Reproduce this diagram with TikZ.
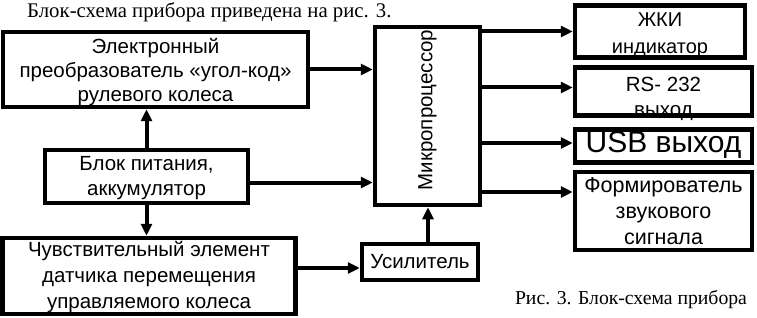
\documentclass[tikz,border=0pt]{standalone}
\usepackage{fontspec}
\setmainfont{Liberation Serif}
\newfontfamily\boxfont{Liberation Sans}
\usetikzlibrary{arrows.meta}
\pgfdeclarelayer{textlayer}
\pgfsetlayers{textlayer,main}
\begin{document}
\begin{tikzpicture}[x=1pt,y=-1pt,
  blk/.style={draw,line width=4.5pt,inner sep=0pt},
  txt/.style={inner sep=0pt,align=center,font=\boxfont\fontsize{20.5}{24}\selectfont},
  con/.style={line width=4pt,-{Triangle[length=12pt,width=11pt]}},
  capt/.style={inner sep=0pt}
]
\useasboundingbox (0,0) rectangle (757,318);

\node[capt,anchor=west,font=\fontsize{20.8}{24}\selectfont] (title) at (27,12) {Блок-схема прибора приведена на рис. 3.};
\node[capt,font=\fontsize{19.7}{23}\selectfont] (cap) at (631,300) {Рис. 3. Блок-схема прибора};

\node[blk,minimum width=305pt,minimum height=75pt] (conv) at (155.5,69.5) {};
\node[blk,minimum width=105pt,minimum height=178pt] (mcu) at (427.5,116) {};
\node[blk,minimum width=203pt,minimum height=53pt] (pwr) at (146.5,176.5) {};
\node[blk,minimum width=293pt,minimum height=76pt] (sens) at (149,276) {};
\node[blk,minimum width=116pt,minimum height=36pt] (amp) at (420,262) {};
\node[blk,minimum width=170pt,minimum height=52pt] (lcd) at (660,31.5) {};
\node[blk,minimum width=177pt,minimum height=48pt] (rs) at (663.5,91.5) {};
\node[blk,minimum width=177pt,minimum height=33pt] (usb) at (663.5,146) {};
\node[blk,minimum width=177pt,minimum height=78pt] (snd) at (663.5,211) {};

\begin{pgfonlayer}{textlayer}
\node[txt] (convt) at ([yshift=-3pt]conv.center) {Электронный\\преобразователь «угол-код»\\рулевого колеса};
\node[txt] (mcut) at ([yshift=6pt]mcu.center) {\rotatebox{90}{Микропроцессор}};
\node[txt,font=\boxfont\fontsize{20.5}{25}\selectfont] (pwrt) at ([yshift=-2pt]pwr.center) {Блок питания,\\аккумулятор};
\node[txt,font=\boxfont\fontsize{20.5}{26}\selectfont] (senst) at ([yshift=-1pt]sens.center) {Чувствительный элемент\\датчика перемещения\\управляемого колеса};
\node[txt] (ampt) at (amp.center) {Усилитель};
\node[txt,font=\boxfont\fontsize{20}{27}\selectfont] (lcdt) at ([yshift=-4pt]lcd.center) {ЖКИ\\индикатор};
\node[txt,font=\boxfont\fontsize{20.5}{25}\selectfont] (rst) at ([yshift=-7pt]rs.center) {RS- 232\\выход};
\node[txt,font=\boxfont\fontsize{30}{31}\selectfont] (usbt) at ([yshift=1pt]usb.center) {USB выход};
\node[txt,font=\boxfont\fontsize{21.5}{26}\selectfont] (sndt) at (snd.center) {Формирователь\\звукового\\сигнала};
\end{pgfonlayer}

\coordinate (rsin) at ([yshift=4pt]rs.west);
\coordinate (usbin) at ([yshift=3pt]usb.west);
\coordinate (sndin) at ([yshift=19pt]snd.west);
\coordinate (pwout) at ([yshift=-6pt]pwr.east);
\coordinate (sout) at ([yshift=8pt]sens.east);
\coordinate (aout) at ([xshift=8pt]amp.north);

\draw[con] (conv.east) -- (conv.east -| mcu.west);
\draw[con] (mcu.east |- lcd.west) -- (lcd.west);
\draw[con] (mcu.east |- rsin) -- (rsin);
\draw[con] (mcu.east |- usbin) -- (usbin);
\draw[con] (mcu.east |- sndin) -- (sndin);
\draw[con] (pwr.north) -- (pwr.north |- conv.south);
\draw[con] (pwr.south) -- (pwr.south |- sens.north);
\draw[con] (pwout) -- (pwout -| mcu.west);
\draw[con] (sout) -- (sout -| amp.west);
\draw[con] (aout) -- (aout |- mcu.south);
\end{tikzpicture}
\end{document}
